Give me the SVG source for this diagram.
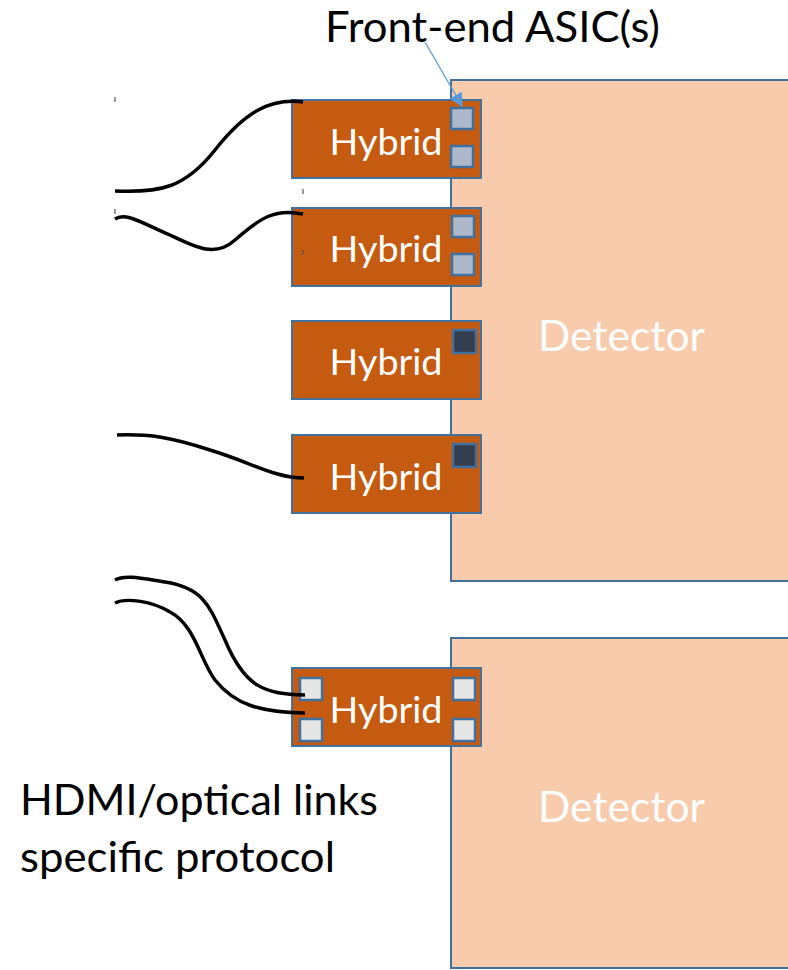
<svg xmlns="http://www.w3.org/2000/svg" width="788" height="970" viewBox="0 0 788 970">
<defs>
<style>
.det{fill:#f8cbad;stroke:#41719c;stroke-width:2}
.hyb{fill:#c55a11;stroke:#41719c;stroke-width:2}
.asic{fill:#adb9ca;stroke:#41719c;stroke-width:2.5}
.asicd{fill:#333f50;stroke:#41719c;stroke-width:2.5}
.asicl{fill:#e7e6e6;stroke:#41719c;stroke-width:2.5}
.cable{fill:none;stroke:#000;stroke-width:3.5;stroke-linecap:butt}
.tick{stroke:#555;stroke-width:1.2}
.ht{font-family:Lato,"Liberation Sans",sans-serif;font-size:37px;fill:#fff;text-anchor:middle}
.dt{font-family:Lato,"Liberation Sans",sans-serif;font-size:43px;fill:#fff}
.lbl{font-family:Lato,"Liberation Sans",sans-serif;font-size:42px;fill:#000}
</style>
<marker id="ah" viewBox="0 0 10 10" refX="9" refY="5" markerWidth="14" markerHeight="14" markerUnits="userSpaceOnUse" orient="auto">
<path d="M0,0 L10,5 L0,10 z" fill="#5b9bd5"/>
</marker>
</defs>
<rect width="788" height="970" fill="#fff"/>
<g id="detector1"><rect class="det" x="451" y="80" width="345" height="501"/><text class="dt" x="538" y="351" textLength="167" lengthAdjust="spacingAndGlyphs">Detector</text></g>
<g id="detector2"><rect class="det" x="451" y="638" width="345" height="330"/><text class="dt" x="538" y="822" textLength="167" lengthAdjust="spacingAndGlyphs">Detector</text></g>
<g id="hybrid1"><rect class="hyb" x="292" y="100" width="189" height="78"/><text class="ht" x="386" y="155" textLength="113" lengthAdjust="spacingAndGlyphs">Hybrid</text><rect class="asic" x="451" y="108" width="22" height="21"/><rect class="asic" x="451" y="146" width="22" height="21"/></g>
<g id="hybrid2"><rect class="hyb" x="292" y="208" width="189" height="78"/><text class="ht" x="386" y="262" textLength="113" lengthAdjust="spacingAndGlyphs">Hybrid</text><rect class="asic" x="452" y="216" width="22" height="21"/><rect class="asic" x="452" y="254" width="22" height="21"/></g>
<g id="hybrid3"><rect class="hyb" x="292" y="321" width="189" height="78"/><text class="ht" x="386" y="375" textLength="113" lengthAdjust="spacingAndGlyphs">Hybrid</text><rect class="asicd" x="453" y="330" width="23" height="23"/></g>
<g id="hybrid4"><rect class="hyb" x="292" y="435" width="189" height="78"/><text class="ht" x="386" y="490" textLength="113" lengthAdjust="spacingAndGlyphs">Hybrid</text><rect class="asicd" x="453" y="444" width="23" height="23"/></g>
<g id="hybrid5"><rect class="hyb" x="292" y="668" width="189" height="78"/><text class="ht" x="386" y="723" textLength="113" lengthAdjust="spacingAndGlyphs">Hybrid</text><rect class="asicl" x="300" y="678" width="22" height="22"/><rect class="asicl" x="300" y="719" width="22" height="22"/><rect class="asicl" x="453" y="678" width="22" height="22"/><rect class="asicl" x="453" y="719" width="22" height="22"/></g>
<g id="labels">
<text class="lbl" x="325" y="42" textLength="335" lengthAdjust="spacingAndGlyphs">Front-end ASIC(s)</text>
<text class="lbl" x="20" y="815" textLength="358" lengthAdjust="spacingAndGlyphs">HDMI/optical links</text>
<text class="lbl" x="20" y="872" textLength="315" lengthAdjust="spacingAndGlyphs">specific protocol</text>
</g>
<g id="connectors">
<line x1="425" y1="42" x2="462" y2="106" stroke="#5b9bd5" stroke-width="1.3" marker-end="url(#ah)"/>
<path class="cable" d="M115,191 C160,193 185,188 215,150 C245,112 270,98 303,102"/>
<path class="cable" d="M115,219 C125,212 140,222 170,235 C195,247 215,258 235,240 C260,218 275,208 303,214"/>
<path class="cable" d="M117,435 C150,434 170,437 210,450 C250,462 275,478 304,478"/>
<path class="cable" d="M115,580 C125,574 145,579 165,582 C205,588 210,608 225,640 C245,688 265,694 305,695"/>
<path class="cable" d="M115,603 C125,598 150,600 170,612 C195,625 200,660 215,680 C235,705 260,712 305,713"/>
<line class="tick" x1="115" y1="97" x2="115" y2="102"/>
<line class="tick" x1="303" y1="189" x2="303" y2="194"/>
<line class="tick" x1="115" y1="209" x2="115" y2="214"/>
<line class="tick" x1="303" y1="250" x2="303" y2="255"/>
</g>
</svg>
